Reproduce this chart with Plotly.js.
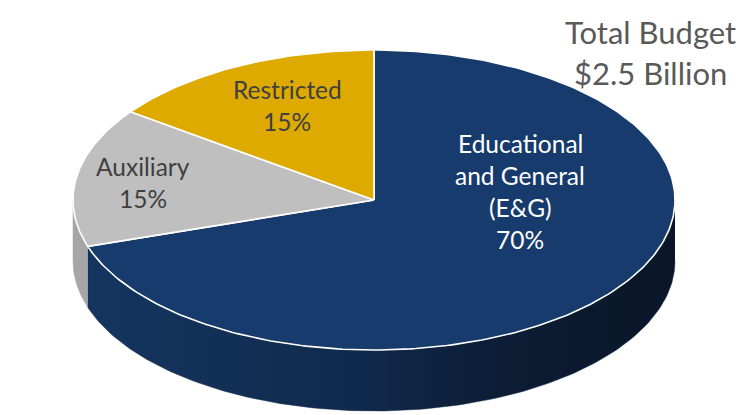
<!DOCTYPE html>
<html>
<head>
<meta charset="utf-8">
<script src="https://cdn.plot.ly/plotly-3.0.1.min.js"></script>
<style>
  html, body { margin: 0; padding: 0; background: #ffffff; }
  #chart { width: 748px; height: 415px; }
</style>
</head>
<body>
<div id="chart"></div>
<script>
// ---- Data ----
const categories = ['Educational and General (E&G)', 'Auxiliary', 'Restricted'];
const shares = [70, 15, 15];
const labelLines = [['Educational', 'and General', '(E&G)'], ['Auxiliary'], ['Restricted']];
const titleLines = ['Total Budget', '$2.5 Billion'];

// ---- Styles ----
const topColors = ['#173b6c', '#bfbfbf', '#deaa00'];
const sideColors = ['#11294d', '#a6a6a6', '#b38a00'];
const sideGradients = [
  [[0, '#15355f'], [0.45, '#102a4d'], [0.7, '#0c1d35'], [1, '#0a1628']],
  null,
  null
];
const labelColors = ['#ffffff', '#404040', '#404040'];
// label centre (px) of each slice's first line, line spacing
const labelPos = [[520, 143], [143, 166], [287, 89]];
const lineGap = 32;

// ---- Geometry of the tilted pie (pixel space) ----
const W = 748, H = 415;
const cx = 374, cy = 200, rx = 301, ry = 150, depth = 61;
const total = shares.reduce((a, b) => a + b, 0);

function pt(deg, dy) {
  const r = deg * Math.PI / 180;
  return [cx + rx * Math.sin(r), cy - ry * Math.cos(r) + (dy || 0)];
}
function arc(a0, a1, dy) {
  const n = Math.max(2, Math.ceil(Math.abs(a1 - a0) / 1));
  const xs = [], ys = [];
  for (let i = 0; i <= n; i++) {
    const p = pt(a0 + (a1 - a0) * i / n, dy);
    xs.push(p[0]); ys.push(p[1]);
  }
  return [xs, ys];
}

const traces = [];
const tops = [];
let acc = 0;
shares.forEach((v, i) => {
  const a0 = acc / total * 360;
  acc += v;
  const a1 = acc / total * 360;

  // visible side wall (front half: 90..270 deg)
  const s0 = Math.max(a0, 90), s1 = Math.min(a1, 270);
  if (s1 > s0) {
    const up = arc(s0, s1, 0);
    const dn = arc(s1, s0, depth);
    const side = {
      type: 'scatter', mode: 'lines',
      x: up[0].concat(dn[0]), y: up[1].concat(dn[1]),
      fill: 'toself', fillcolor: sideColors[i],
      line: { width: 0.5, color: sideColors[i] },
      hoverinfo: 'skip', name: categories[i]
    };
    if (sideGradients[i]) {
      side.fillgradient = { type: 'horizontal', colorscale: sideGradients[i] };
    }
    traces.push(side);
  }

  // top face
  const t = arc(a0, a1, 0);
  tops.push({
    type: 'scatter', mode: 'lines',
    x: [cx].concat(t[0], [cx]), y: [cy].concat(t[1], [cy]),
    fill: 'toself', fillcolor: topColors[i],
    line: { width: 1.6, color: '#ffffff' },
    hoverinfo: 'skip', name: categories[i]
  });
});
traces.push(...tops);

// ---- Annotations ----
const annotations = [];
labelLines.forEach((lines, i) => {
  const all = lines.concat([shares[i] + '%']);
  all.forEach((txt, k) => {
    annotations.push({
      x: labelPos[i][0], y: labelPos[i][1] + k * lineGap,
      xref: 'x', yref: 'y', text: txt, showarrow: false,
      xanchor: 'center', yanchor: 'middle',
      font: { family: 'Lato, "Open Sans", sans-serif', size: 24.5, color: labelColors[i] }
    });
  });
});
titleLines.forEach((txt, k) => {
  annotations.push({
    x: 650, y: 32 + k * 41, xref: 'x', yref: 'y', text: txt, showarrow: false,
    xanchor: 'center', yanchor: 'middle',
    font: { family: 'Lato, "Open Sans", sans-serif', size: 31, color: '#595959' }
  });
});

const layout = {
  width: W, height: H,
  margin: { l: 0, r: 0, t: 0, b: 0, pad: 0 },
  paper_bgcolor: '#ffffff', plot_bgcolor: '#ffffff',
  showlegend: false,
  xaxis: { range: [0, W], visible: false, fixedrange: true },
  yaxis: { range: [H, 0], visible: false, fixedrange: true },
  annotations: annotations,
  hovermode: false
};

Plotly.newPlot('chart', traces, layout, { staticPlot: true, displayModeBar: false });
</script>
</body>
</html>
